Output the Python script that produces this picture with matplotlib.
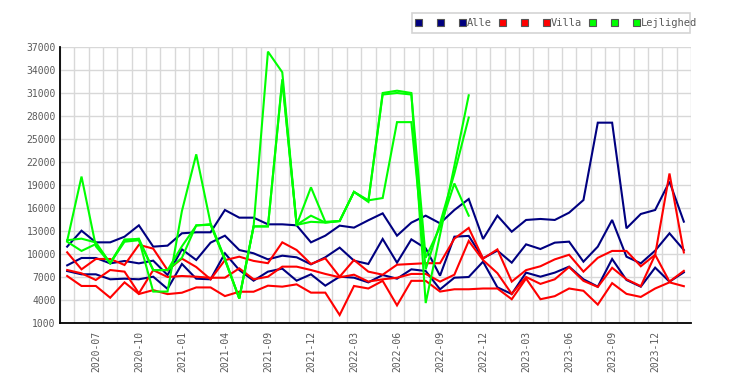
import numpy as np
import matplotlib
matplotlib.use("Agg")
import matplotlib.pyplot as plt
from matplotlib.patches import Rectangle

months = ["2020-05", "2020-06", "2020-07", "2020-08", "2020-09", "2020-10", "2020-11", "2020-12",
          "2021-01", "2021-02", "2021-03", "2021-04", "2021-06", "2021-08", "2021-09", "2021-10",
          "2021-11", "2021-12", "2022-01", "2022-02", "2022-03", "2022-04", "2022-05", "2022-06",
          "2022-07", "2022-08", "2022-09", "2022-10", "2022-11", "2022-12", "2023-01", "2023-02",
          "2023-03", "2023-04", "2023-05", "2023-06", "2023-07", "2023-08", "2023-09", "2023-10",
          "2023-11", "2023-12", "2024-01", "2024-02"]

alle_1 = [10960, 13040, 11520, 11520, 12260, 13740, 10960, 11090, 12700, 12830, 12830, 15740,
          14740, 14740, 13870, 13870, 13740, 11520, 12390, 13700, 13440, 14400, 15300, 12390,
          14090, 15000, 14000, 15740, 17170, 11960, 15000, 12910, 14440, 14570, 14440, 15390,
          17040, 27130, 27130, 13350, 15220, 15740, 19440, 14220]
alle_2 = [8520, 9480, 9480, 8780, 9090, 8780, 9130, 7260, 10610, 9220, 11480, 12390,
          10520, 10090, 9300, 9780, 9570, 8650, 9570, 10830, 9130, 8700, 11960, 8870,
          11910, 10740, 7170, 12260, 12360, 9440, 10440, 8870, 11260, 10650, 11480, 11610,
          9000, 10960, 14440, 9650, 8780, 10440, 12700, 10520]
alle_3 = [7780, 7350, 7350, 6700, 6780, 6700, 7040, 5450, 8700, 6780, 6700, 10090,
          7910, 6520, 7700, 8090, 6520, 7350, 5870, 7040, 6910, 6300, 7260, 6780,
          8000, 7780, 5390, 6910, 7000, 9000, 5650, 4780, 7570, 7040, 7570, 8350,
          6700, 5740, 9350, 6610, 5740, 8220, 6390, 7610]

villa_1 = [10220, 8000, 9350, 9350, 8570, 11200, 10700, 7900, 9400, 8300, 6700, 9200,
           9650, 9100, 8800, 11520, 10520, 8700, 9430, 7040, 9220, 7700, 7300, 8600,
           8700, 8800, 8800, 12000, 13400, 9400, 10600, 6400, 7900, 8400, 9300, 9900,
           7700, 9500, 10400, 10400, 8400, 9900, 20500, 10200]
villa_2 = [7910, 7480, 6610, 7910, 7700, 4870, 7900, 7000, 7130, 7040, 6900, 6910,
           8130, 6700, 7040, 8350, 8350, 7910, 7400, 6960, 7300, 6400, 6700, 6900,
           7400, 7400, 6400, 7300, 11700, 9200, 7500, 4800, 7000, 6100, 6700, 8300,
           6500, 5700, 8200, 6700, 5800, 9900, 6400, 7800]
villa_3 = [7130, 5830, 5830, 4300, 6300, 4780, 5290, 4770, 4950, 5640, 5640, 4510,
           5080, 5080, 5870, 5740, 6040, 4960, 4960, 2040, 5830, 5500, 6500, 3300,
           6500, 6500, 5100, 5400, 5400, 5500, 5500, 4100, 6800, 4100, 4500, 5500,
           5200, 3400, 6200, 4800, 4400, 5500, 6300, 5800]

lejl_1 = [11700, 20100, 11000, 8800, 11900, 11900, 5100, 5100, 15600, 23000, 14000, 9400,
          4200, 13600, 36400, 33700, 13800, 18700, 14200, 14300, 18100, 16800, 31000, 31300,
          31000, 3600, 12500, 21500, 30700]
lejl_2 = [11800, 12000, 11500, 8800, 11800, 12000, 7900, 7900, 9500, 13750, 13800, 9200,
          4200, 13600, 13600, 32600, 13800, 15000, 14100, 14300, 18100, 16900, 30800, 31000,
          30800, 9500, 13500, 19200, 15000]
lejl_3 = [11600, 10400, 11300, 8800, 11600, 11800, 7900, 7900, 11000, 13700, 13900, 9300,
          4200, 13600, 13600, 32800, 13800, 14200, 14100, 14300, 18100, 17000, 17300, 27200,
          27200, 8000, 14000, 20500, 27800]

yticks = list(range(1000, 37001, 3000))
label_every = 3
label_start = 2

NAVY = "#000080"
RED = "#ff0000"
GREEN = "#00ff00"
TXT = "#5a5a5a"
MONO = "DejaVu Sans Mono"

W, H = 750, 385
fig = plt.figure(figsize=(W / 100, H / 100), dpi=100)
fig.patch.set_facecolor("white")
ax = fig.add_axes([60 / W, 62 / H, 631 / W, 276 / H])

x = np.arange(len(months))
groups = [
    (NAVY, [alle_1, alle_2, alle_3]),
    (RED, [villa_1, villa_2, villa_3]),
    (GREEN, [lejl_1, lejl_2, lejl_3]),
]
z = 3
for color, series in groups:
    for s in series:
        ax.plot(x[:len(s)], s, color=color, lw=1.5, solid_joinstyle="miter", zorder=z)
        z += 0.1

ax.set_xlim(-0.5, len(months) - 0.5)
ax.set_ylim(yticks[0], yticks[-1])
ax.set_yticks(yticks)
ax.set_yticklabels([str(v) for v in yticks])
ax.set_xticks(x[label_start::label_every])
ax.set_xticklabels([months[i] for i in x[label_start::label_every]], rotation=90)
ax.set_xticks(np.arange(-0.5, len(months), 1.0), minor=True)

ax.grid(which="minor", axis="x", color="#d8d8d8", lw=1.0, zorder=0)
ax.grid(which="major", axis="y", color="#d8d8d8", lw=1.0, zorder=0)
ax.grid(which="major", axis="x", visible=False)
ax.set_axisbelow(True)

for side in ["top", "right"]:
    ax.spines[side].set_visible(False)
for side in ["left", "bottom"]:
    ax.spines[side].set_color("black")
    ax.spines[side].set_linewidth(1.3)

ax.tick_params(axis="both", which="both", length=0)
ax.tick_params(axis="y", pad=3, labelsize=7, labelcolor=TXT)
ax.tick_params(axis="x", pad=6, labelsize=7, labelcolor=TXT)
for lab in ax.get_xticklabels() + ax.get_yticklabels():
    lab.set_fontfamily(MONO)

# legend drawn manually
def fx(px):
    return px / W

def fy(py):
    return 1 - py / H

fig.add_artist(Rectangle((fx(412), fy(33)), fx(690) - fx(412), fy(13) - fy(33),
                         transform=fig.transFigure, facecolor="white",
                         edgecolor="#d4d4d4", lw=1.2))
legend_groups = [(NAVY, "Alle", 418), (RED, "Villa", 502), (GREEN, "Lejlighed", 592)]
for color, name, x0 in legend_groups:
    for k in range(3):
        cx = x0 + k * 22
        fig.add_artist(Rectangle((fx(cx - 3), fy(26)), fx(7), fy(19) - fy(26),
                                 transform=fig.transFigure, facecolor=color,
                                 edgecolor="#555555", lw=0.8))
    fig.text(fx(x0 + 2 * 22 + 5), fy(23), name, family=MONO, fontsize=7.5,
             color=TXT, va="center", ha="left")

fig.savefig("out.png", dpi=100)
